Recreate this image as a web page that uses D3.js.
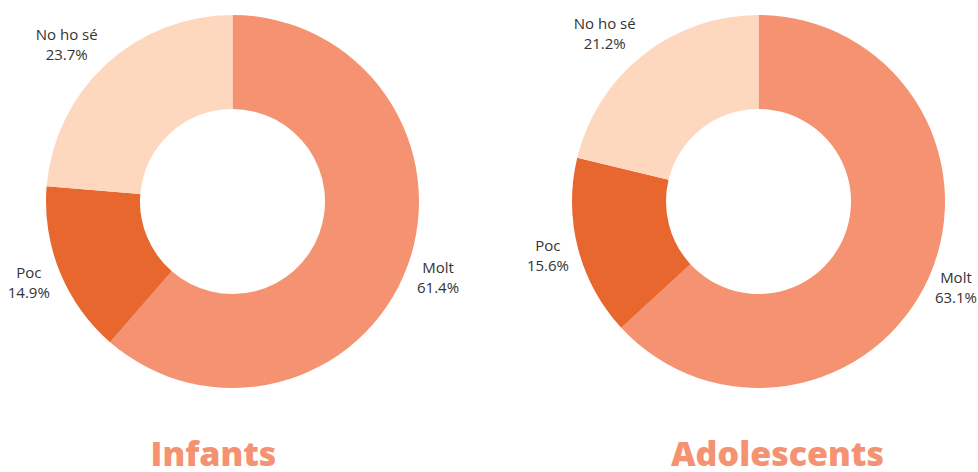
<!DOCTYPE html>
<html>
<head>
<meta charset="utf-8">
<script src="https://cdn.jsdelivr.net/npm/d3@7"></script>
<style>
  body { margin: 0; background: #fff; }
  text { font-family: "Open Sans", sans-serif; }
</style>
</head>
<body>
<div id="chart"></div>
<script>
// data
var categories = ["Molt", "Poc", "No ho sé"];
var infantsValues = [61.4, 14.9, 23.7];
var adolescentsValues = [63.1, 15.6, 21.2];
var groupTitles = ["Infants", "Adolescents"];
var colors = ["#F59271", "#E8672F", "#FDD8BF"];

var svgWidth = 978;
var svgHeight = 472;

var svg = d3.select("#chart")
  .append("svg")
  .attr("width", svgWidth)
  .attr("height", svgHeight);

var outerR = 186.5;
var innerR = 92.5;
var labelR = 214;
var labelPad = 6;

var color = d3.scaleOrdinal().domain(categories).range(colors);

var pie = d3.pie().sort(null).value(d => d.value);
var arc = d3.arc().innerRadius(innerR).outerRadius(outerR);
var labelArc = d3.arc().innerRadius(labelR).outerRadius(labelR);

// one panel per group
var panels = [
  { title: groupTitles[0], values: infantsValues, cx: 232.5, titleX: 213.5 },
  { title: groupTitles[1], values: adolescentsValues, cx: 758.5, titleX: 777.5 }
];

panels.forEach(function (p) {
  var rows = categories.map((c, i) => ({ cat: c, value: p.values[i] }));
  var g = svg.append("g")
    .attr("transform", `translate(${p.cx}, 201.5)`);

  g.selectAll("path")
    .data(pie(rows))
    .enter()
    .append("path")
    .attr("d", arc)
    .attr("fill", d => color(d.data.cat));

  var labels = g.selectAll(".lbl")
    .data(pie(rows))
    .enter()
    .append("text")
    .attr("class", "lbl")
    .attr("text-anchor", "middle")
    .style("font-size", "15px")
    .style("fill", "#333");

  labels.append("tspan")
    .attr("x", 0)
    .attr("y", -4)
    .text(d => d.data.cat);
  labels.append("tspan")
    .attr("x", 0)
    .attr("y", 16)
    .text(d => d.data.value.toFixed(1) + "%");

  // place labels at centroid, then push sideways so they clear the ring
  labels.each(function (d) {
    var c = labelArc.centroid(d);
    var b = this.getBBox();
    var x0 = c[0] + b.x, x1 = x0 + b.width;
    var y0 = c[1] + b.y, y1 = y0 + b.height;
    var nx = Math.max(x0, Math.min(0, x1));
    var ny = Math.max(y0, Math.min(0, y1));
    var need = outerR + labelPad;
    var tx = c[0];
    if (Math.hypot(nx, ny) < need && Math.abs(ny) < need) {
      var edge = Math.sqrt(need * need - ny * ny);
      if (c[0] >= 0) tx += edge - x0;
      else tx += -edge - x1;
    }
    // keep inside the svg
    var maxX = svgWidth - p.cx - b.width / 2 - 1;
    var minX = -p.cx + b.width / 2 + 1;
    tx = Math.max(minX, Math.min(maxX, tx));
    d3.select(this).attr("transform", `translate(${tx}, ${c[1]})`);
  });

  // title
  svg.append("text")
    .attr("x", p.titleX)
    .attr("y", 466)
    .attr("text-anchor", "middle")
    .style("font-size", "34px")
    .style("font-weight", "800")
    .style("fill", "#F59271")
    .text(p.title);
});
</script>
</body>
</html>
